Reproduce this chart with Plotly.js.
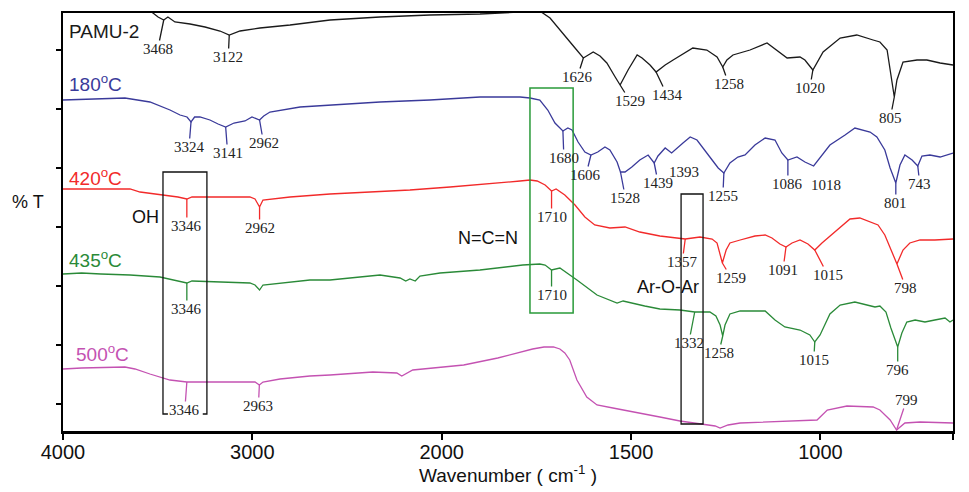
<!DOCTYPE html>
<html><head><meta charset="utf-8">
<script src="https://cdn.plot.ly/plotly-3.0.1.min.js"></script>
<style>html,body{margin:0;padding:0;background:#fff}#chart{width:969px;height:492px}</style>
</head><body><div id="chart"></div>
<script>
// ---- data: wavenumber (cm-1) and offset transmittance (arbitrary units) ----
const pamuWn = [4000,3593,3525,3498,3468,3446,3409,3329,3250,3171,3122,3065,2960,2801,2590,2326,2062,1899,1793,1741,1714,1680,1648,1626,1600,1582,1564,1542,1529,1508,1484,1471,1450,1434,1410,1389,1337,1300,1273,1258,1247,1231,1186,1141,1107,1088,1054,1041,1020,1006,993,948,904,861,843,824,816,805,798,782,745,719,684,650];
const pamuT  = [426,426,418,414,411,414,409,407,404,400,396,400,403,406,411,414,416,417,419,420,413,398,383,373,379,375,368,354,346,361,376,373,366,359,366,371,383,381,374,364,371,376,381,388,378,373,374,371,361,371,379,393,396,391,389,381,361,334,351,369,371,371,368,366];

const t180Wn = [4000,3673,3541,3435,3382,3345,3324,3305,3277,3224,3181,3141,3097,3039,3002,2962,2940,2907,2748,2590,2326,2062,1899,1793,1767,1741,1720,1701,1688,1680,1667,1656,1640,1622,1606,1588,1569,1556,1537,1528,1516,1498,1477,1455,1439,1429,1410,1393,1363,1344,1326,1305,1286,1270,1255,1239,1218,1199,1173,1146,1120,1102,1086,1062,1041,1018,996,975,935,909,869,851,830,816,801,790,777,758,743,732,711,684,650];
const t180T  = [331,333,329,321,316,314,309,314,314,311,307,304,308,310,314,311,315,319,324,326,329,331,334,334,333,331,321,308,303,300,303,301,289,279,276,279,284,281,269,259,259,264,271,276,268,275,283,278,288,294,291,281,271,263,258,268,274,276,286,293,291,278,271,274,269,265,276,286,296,303,299,294,281,263,248,266,276,271,265,275,276,274,278];

const t420Wn = [4000,3646,3593,3461,3393,3346,3319,3171,3013,2986,2962,2944,2801,2590,2379,2168,1978,1873,1793,1767,1748,1727,1710,1698,1675,1648,1622,1596,1556,1516,1477,1424,1371,1357,1318,1286,1273,1259,1249,1239,1212,1173,1146,1128,1107,1091,1075,1054,1033,1015,996,961,922,896,869,848,830,816,798,782,764,737,698,650];
const t420T  = [242,242,239,236,234,232,234,234,234,232,224,231,234,237,239,241,244,247,250,251,250,246,240,242,236,226,214,206,203,204,199,195,193,192,194,192,188,168,181,188,191,195,196,193,187,184,188,191,187,181,188,199,212,213,209,206,196,183,167,181,188,191,191,192];

const t435Wn = [4000,3902,3800,3646,3488,3393,3346,3319,3171,3013,2986,2962,2944,2854,2696,2590,2326,2220,2190,2168,2140,2115,2009,1899,1786,1741,1727,1710,1688,1643,1590,1537,1521,1464,1424,1371,1332,1292,1276,1265,1258,1252,1239,1212,1146,1120,1094,1054,1028,1015,1001,975,948,909,874,856,843,827,814,796,785,772,750,724,698,671,658,650];
const t435T  = [157,158,157,156,154,150,148,150,149,148,146,141,146,148,151,151,156,153,150,152,150,155,158,161,166,167,166,161,163,151,136,128,130,125,122,121,119,119,115,106,95,106,117,120,120,111,104,101,96,89,96,117,126,129,126,124,125,119,103,84,98,109,111,109,111,113,109,111];

const t500Wn = [4000,3902,3673,3620,3541,3435,3346,3224,3013,2986,2963,2944,2854,2696,2590,2364,2237,2211,2153,1942,1852,1799,1760,1730,1705,1688,1675,1662,1643,1617,1590,1548,1503,1424,1371,1318,1278,1265,1244,1212,1125,1009,982,930,861,843,816,799,777,737,650];
const t500T  = [62,63,64,62,57,51,49,49,49,49,46,49,52,55,56,59,58,55,61,66,73,78,82,84,84,82,78,71,51,34,26,23,20,14,10,7,5,3,6,8,9,11,21,25,24,21,11,1,8,9,8];

// marked band positions (cm-1) for each spectrum
const pamuPeaks = [3468,3122,1626,1529,1434,1258,1020,805];
const t180Peaks = [3324,3141,2962,1680,1606,1528,1439,1393,1255,1086,1018,801,743];
const t420Peaks = [3346,2962,1710,1357,1259,1091,1015,798];
const t435Peaks = [3346,1710,1332,1258,1015,796];
const t500Peaks = [3346,2963,799];

const seriesNames = ['PAMU-2','180<sup>o</sup>C','420<sup>o</sup>C','435<sup>o</sup>C','500<sup>o</sup>C'];
const xTickWn = [4000,3000,2000,1500,1000,650];
const xTickText = ['4000','3000','2000','1500','1000','650'];

// ---- presentation ----
// axis is compressed 2x above 2000 cm-1 (as in the original instrument plot)
function u(w){ return w <= 2000 ? w : 2000 + (w - 2000) / 2; }
function yAt(w, xs, ys){
  for (let i = 0; i < xs.length - 1; i++){
    if (w <= xs[i] && w >= xs[i+1]){
      const f = (xs[i] - w) / (xs[i] - xs[i+1]);
      return ys[i] + f * (ys[i+1] - ys[i]);
    }
  }
  return ys[ys.length-1];
}
const colors = ['#1a1a1a','#3a3a9a','#f22a2a','#2a8a38','#c452b2'];
const series = [
  {wn:pamuWn, t:pamuT, peaks:pamuPeaks,
   off:[[-6,29],[-1,22],[-6,19],[10,16],[11,23],[6,17],[-3,18],[-4,21]]},
  {wn:t180Wn, t:t180T, peaks:t180Peaks,
   off:[[-2,25],[2,26],[4,23],[1,27],[-5,20],[5,26],[4,20],[12,19],[-1,23],[0,24],[12,19],[0,20],[2,18]]},
  {wn:t420Wn, t:t420T, peaks:t420Peaks,
   off:[[0,27],[0,21],[0,26],[-3,23],[9,15],[-3,23],[13,25],[9,24]]},
  {wn:t435Wn, t:t435T, peaks:t435Peaks,
   off:[[0,26],[0,25],[-6,31],[-4,17],[-1,18],[0,23]]},
  {wn:t500Wn, t:t500T, peaks:t500Peaks,
   off:[[-2,28],[-1,21],[10,-30]]}
];
const nameY = [0.955, 0.833, 0.608, 0.411, 0.186];
const nameX = [0.004, 0.004, 0.004, 0.004, 0.012];

const traces = series.map((s, i) => ({
  type:'scatter', mode:'lines',
  x: s.wn.map(u), y: s.t,
  line:{color:colors[i], width:1.3},
  hoverinfo:'skip'
}));

const annotations = [];
series.forEach((s, i) => {
  s.peaks.forEach((p, k) => {
    annotations.push({
      x:u(p), y:yAt(p, s.wn, s.t), xref:'x', yref:'y',
      text:String(p), showarrow:true, arrowhead:0, arrowwidth:1.3,
      arrowcolor:colors[i], standoff:0, startstandoff:0,
      ax:s.off[k][0], ay:s.off[k][1],
      font:{family:'Liberation Serif, Times New Roman, serif', size:15, color:'#222'},
      borderpad:0
    });
  });
  annotations.push({
    xref:'paper', yref:'paper', x:nameX[i], y:nameY[i], xanchor:'left', yanchor:'middle',
    text:seriesNames[i], showarrow:false,
    font:{family:'Liberation Sans, Arial, sans-serif', size:19, color:colors[i]}
  });
});
const F = {family:'Liberation Sans, Arial, sans-serif', size:18, color:'#111'};
function px(xp, yp){ return {x:(xp-63)/890, y:(431-yp)/418}; }
[['% T',28,202],['OH',145,217],['N=C=N',488,238],['Ar-O-Ar',668,287]].forEach(a => {
  const p = px(a[1], a[2]);
  annotations.push({xref:'paper', yref:'paper', x:p.x, y:p.y, xanchor:'center', yanchor:'middle',
    text:a[0], showarrow:false, font:F});
});

const shapes = [
  {type:'path', xref:'x', yref:'y', line:{color:'#111', width:1.3},
   path:`M ${u(3446)},17 L ${u(3472)},17 L ${u(3472)},259 L ${u(3240)},259 L ${u(3240)},17 L ${u(3262)},17`},
  {type:'rect', xref:'x', yref:'y', x0:u(1767), x1:u(1653), y0:118, y1:343,
   line:{color:'#2a9a3a', width:1.5}},
  {type:'rect', xref:'x', yref:'y', x0:u(1368), x1:u(1310), y0:7, y1:237,
   line:{color:'#111', width:1.3}}
];

const layout = {
  width:969, height:492,
  margin:{l:63, r:16, t:13, b:61},
  paper_bgcolor:'#fff', plot_bgcolor:'#fff', showlegend:false,
  xaxis:{range:[u(4000), u(650)], tickmode:'array', tickvals:xTickWn.map(u), ticktext:xTickText,
    ticks:'outside', ticklen:6, tickwidth:2, tickcolor:'#000', ticklabelstandoff:-5,
    showline:true, linecolor:'#000', linewidth:2.5, mirror:true,
    showgrid:false, zeroline:false,
    tickfont:{family:'Liberation Sans, Arial, sans-serif', size:20, color:'#111'},
    title:{text:'Wavenumber ( cm<sup>-1</sup> )', standoff:4,
      font:{family:'Liberation Sans, Arial, sans-serif', size:19, color:'#111'}}},
  yaxis:{range:[0,418], showticklabels:false, ticks:'outside', ticklen:5, tickwidth:2, tickcolor:'#000',
    tick0:27, dtick:59, showline:true, linecolor:'#000', linewidth:2, mirror:true,
    showgrid:false, zeroline:false},
  annotations:annotations, shapes:shapes
};
Plotly.newPlot('chart', traces, layout, {staticPlot:true, displayModeBar:false});
</script>
</body></html>
